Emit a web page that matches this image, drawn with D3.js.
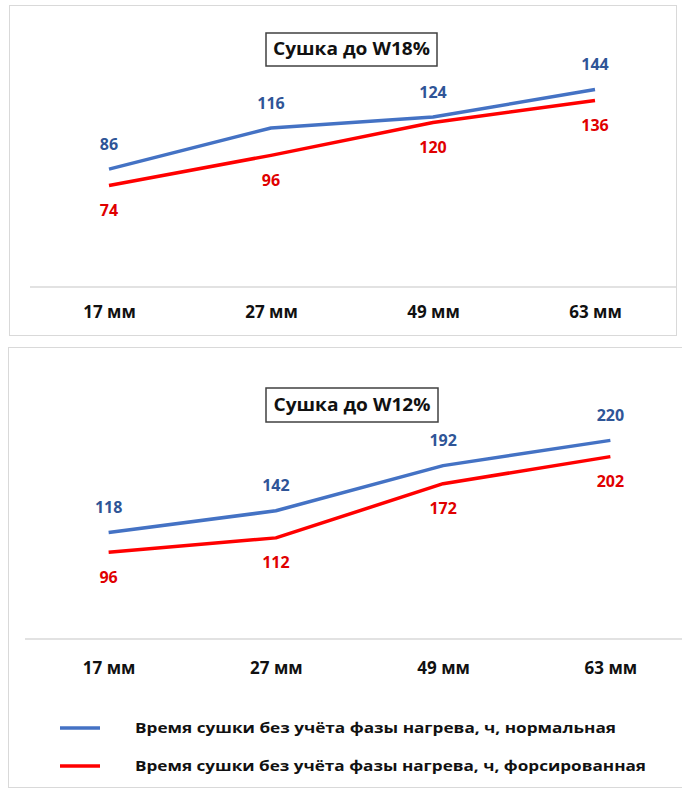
<!DOCTYPE html>
<html>
<head>
<meta charset="utf-8">
<script src="https://cdn.jsdelivr.net/npm/d3@7"></script>
<style>
  body { margin: 0; background: #fff; }
  text { font-family: "Open Sans", Lato, sans-serif; font-weight: bold; }
</style>
</head>
<body>
<svg id="chart" width="682" height="789"></svg>
<script>
const categories = ["17 мм", "27 мм", "49 мм", "63 мм"];
const normal18 = [86, 116, 124, 144];
const forced18 = [74, 96, 120, 136];
const normal12 = [118, 142, 192, 220];
const forced12 = [96, 112, 172, 202];
const seriesNames = [
  "Время сушки без учёта фазы нагрева, ч, нормальная",
  "Время сушки без учёта фазы нагрева, ч, форсированная"
];
const titles = ["Сушка до W18%", "Сушка до W12%"];

const colours = { normal: "#4472c4", forced: "#ff0000" };
const labelColours = { normal: "#2f5597", forced: "#e00000" };

const svg = d3.select("#chart");

const panels = [
  {
    title: titles[0], normal: normal18, forced: forced18,
    box: { x: 9, y: 5, w: 667, h: 330 },
    xRange: [28, 676], yDomain: [0, 160], yRange: [287, 67.6],
    axisX: [30, 676], labelY: 312, titleBox: { x: 266, y: 33, w: 171, h: 33 }
  },
  {
    title: titles[1], normal: normal12, forced: forced12,
    box: { x: 8, y: 347, w: 700, h: 440 },
    xRange: [25, 694], yDomain: [0, 240], yRange: [639, 422.3],
    axisX: [25, 682], labelY: 668, titleBox: { x: 266, y: 388, w: 172, h: 34 }
  }
];

const drawPanel = p => {
  const g = svg.append("g");

  g.append("rect")
    .attr("x", p.box.x + 0.5).attr("y", p.box.y + 0.5)
    .attr("width", p.box.w).attr("height", p.box.h)
    .attr("fill", "#fff").attr("stroke", "#d9d9d9");

  const x = d3.scalePoint().domain(categories).range(p.xRange).padding(0.5);
  const y = d3.scaleLinear().domain(p.yDomain).range(p.yRange);

  // category axis: a plain line and the labels
  const xAxis = d3.axisBottom(x).tickSize(0).tickPadding(0);
  const ax = g.append("g")
    .attr("transform", `translate(0,${y(0)})`)
    .call(xAxis);
  ax.select(".domain").remove();
  ax.selectAll("text")
    .attr("y", p.labelY - y(0))
    .attr("dy", "0.35em")
    .attr("font-size", 17)
    .attr("fill", "#111");
  g.append("line")
    .attr("x1", p.axisX[0]).attr("x2", p.axisX[1])
    .attr("y1", y(0)).attr("y2", y(0))
    .attr("stroke", "#d9d9d9").attr("stroke-width", 1.5);

  const line = d3.line().x((d, i) => x(categories[i])).y(d => y(d));

  [["normal", -25], ["forced", 25]].forEach(([key, off]) => {
    g.append("path")
      .datum(p[key])
      .attr("d", line)
      .attr("fill", "none")
      .attr("stroke", colours[key])
      .attr("stroke-width", 3.5)
      .attr("stroke-linejoin", "round");

    g.selectAll(`.lbl-${key}`)
      .data(p[key])
      .join("text")
      .attr("class", `lbl-${key}`)
      .attr("x", (d, i) => x(categories[i]))
      .attr("y", d => y(d) + off)
      .attr("dy", "0.35em")
      .attr("text-anchor", "middle")
      .attr("font-size", 16)
      .attr("fill", labelColours[key])
      .text(d => d);
  });

  // title in a box
  g.append("rect")
    .attr("x", p.titleBox.x).attr("y", p.titleBox.y)
    .attr("width", p.titleBox.w).attr("height", p.titleBox.h)
    .attr("fill", "#fff").attr("stroke", "#404040").attr("stroke-width", 1.5);
  g.append("text")
    .attr("x", p.titleBox.x + p.titleBox.w / 2)
    .attr("y", p.titleBox.y + p.titleBox.h / 2)
    .attr("dy", "0.35em")
    .attr("text-anchor", "middle")
    .attr("font-size", 17)
    .attr("textLength", 157)
    .attr("lengthAdjust", "spacingAndGlyphs")
    .attr("fill", "#111")
    .text(p.title);
};

panels.forEach(drawPanel);

// legend
const legend = svg.append("g");
const legendY = [728, 766];
const legendWidth = [481, 511];
["normal", "forced"].forEach((key, i) => {
  legend.append("line")
    .attr("x1", 60).attr("x2", 100)
    .attr("y1", legendY[i]).attr("y2", legendY[i])
    .attr("stroke", colours[key]).attr("stroke-width", 3.5);
  legend.append("text")
    .attr("x", 135).attr("y", legendY[i])
    .attr("dy", "0.35em")
    .attr("font-size", 15)
    .attr("textLength", legendWidth[i])
    .attr("lengthAdjust", "spacingAndGlyphs")
    .attr("fill", "#111")
    .text(seriesNames[i]);
});
</script>
</body>
</html>
